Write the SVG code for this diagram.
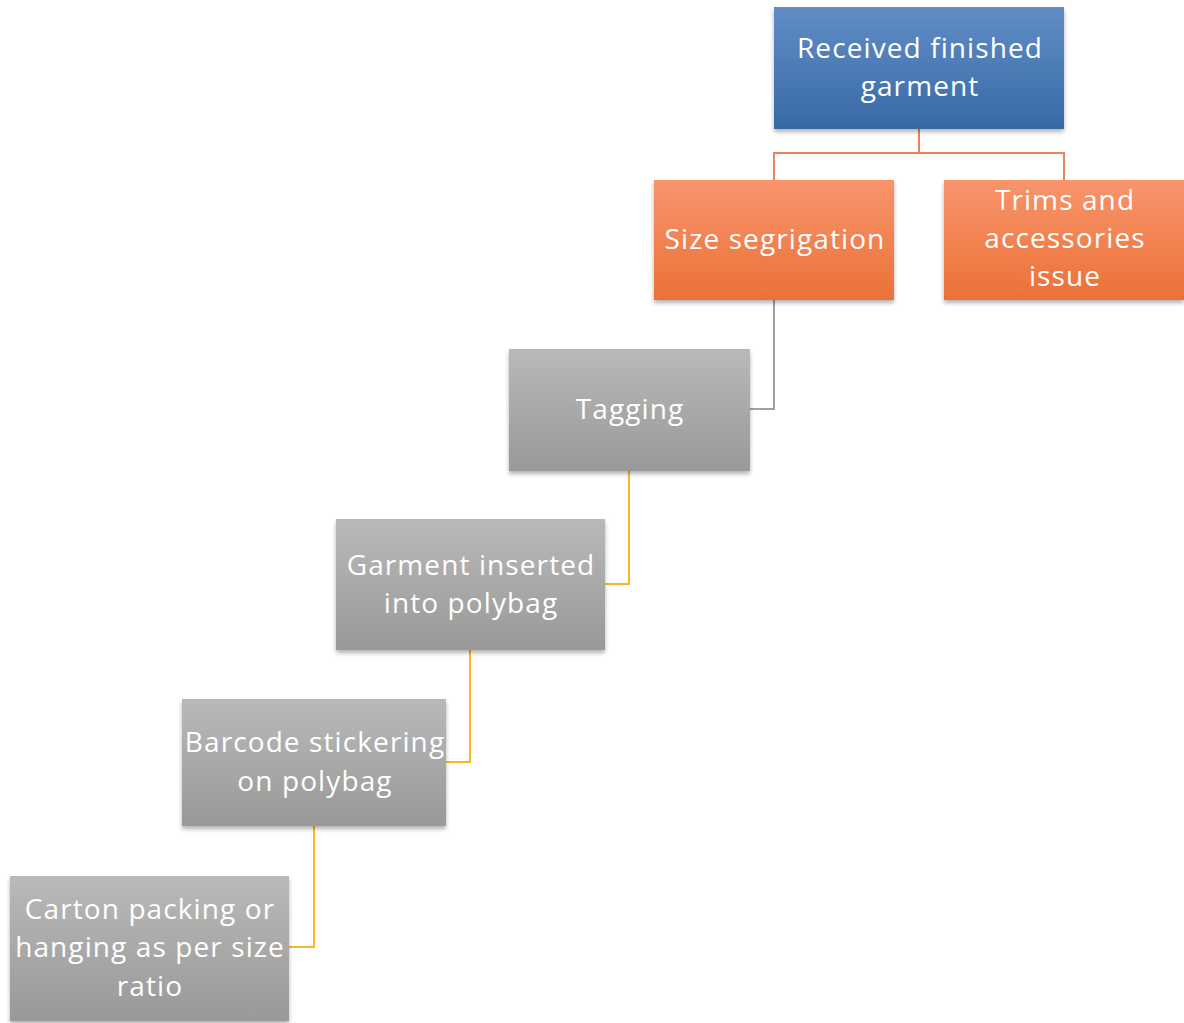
<svg xmlns="http://www.w3.org/2000/svg" width="1184" height="1023" viewBox="0 0 1184 1023">
  <defs>
    <linearGradient id="gBlue" x1="0" y1="0" x2="0" y2="1">
      <stop offset="0" stop-color="#628dc6"/>
      <stop offset="1" stop-color="#376aa6"/>
    </linearGradient>
    <linearGradient id="gOrange" x1="0" y1="0" x2="0" y2="1">
      <stop offset="0" stop-color="#f8946c"/>
      <stop offset="1" stop-color="#eb7137"/>
    </linearGradient>
    <linearGradient id="gGray" x1="0" y1="0" x2="0" y2="1">
      <stop offset="0" stop-color="#b9b9b9"/>
      <stop offset="1" stop-color="#999999"/>
    </linearGradient>
    <filter id="shadow" x="-10%" y="-10%" width="120%" height="130%">
      <feDropShadow dx="0" dy="3" stdDeviation="2" flood-color="#000" flood-opacity="0.3"/>
    </filter>
  </defs>
  <style>
    .lbl { font-family: "Open Sans", "Noto Sans", "Liberation Sans", sans-serif; font-size: 28px; letter-spacing: 1.1px; fill: #ffffff; text-anchor: middle; }
    .box { filter: url(#shadow); }
    .blue { fill: url(#gBlue); }
    .orange { fill: url(#gOrange); }
    .gray { fill: url(#gGray); }
    .conn { fill: none; stroke-width: 2; }
    .c-orange { stroke: #ec8458; }
    .c-gray { stroke: #a0a0a0; }
    .c-yellow { stroke: #f7ba22; }
  </style>
  <rect width="1184" height="1023" fill="#ffffff"/>

  <g id="connectors">
    <path class="conn c-orange" d="M919 129 V153 H774 V180"/>
    <path class="conn c-orange" d="M919 153 H1064 V180"/>
    <path class="conn c-gray" d="M774 300 V409 H750"/>
    <path class="conn c-yellow" d="M629 471 V584 H605"/>
    <path class="conn c-yellow" d="M470 650 V762 H446"/>
    <path class="conn c-yellow" d="M314 826 V947 H289"/>
  </g>

  <g id="received">
    <rect class="box blue" x="774" y="7" width="290" height="122"/>
    <text class="lbl" x="920" y="58">Received finished</text>
    <text class="lbl" x="920" y="96">garment</text>
  </g>

  <g id="size-segrigation">
    <rect class="box orange" x="654" y="180" width="240" height="120"/>
    <text class="lbl" x="775" y="249">Size segrigation</text>
  </g>

  <g id="trims">
    <rect class="box orange" x="944" y="180" width="240" height="120"/>
    <text class="lbl" x="1065" y="210">Trims and</text>
    <text class="lbl" x="1065" y="248">accessories</text>
    <text class="lbl" x="1065" y="286">issue</text>
  </g>

  <g id="tagging">
    <rect class="box gray" x="509" y="349" width="241" height="122"/>
    <text class="lbl" x="630" y="419">Tagging</text>
  </g>

  <g id="polybag">
    <rect class="box gray" x="336" y="519" width="269" height="131"/>
    <text class="lbl" x="471" y="575">Garment inserted</text>
    <text class="lbl" x="471" y="613">into polybag</text>
  </g>

  <g id="barcode">
    <rect class="box gray" x="182" y="699" width="264" height="127"/>
    <text class="lbl" x="315" y="752">Barcode stickering</text>
    <text class="lbl" x="315" y="791">on polybag</text>
  </g>

  <g id="carton">
    <rect class="box gray" x="10" y="876" width="279" height="145"/>
    <text class="lbl" x="150" y="919">Carton packing or</text>
    <text class="lbl" x="150" y="957">hanging as per size</text>
    <text class="lbl" x="150" y="996">ratio</text>
  </g>
</svg>
